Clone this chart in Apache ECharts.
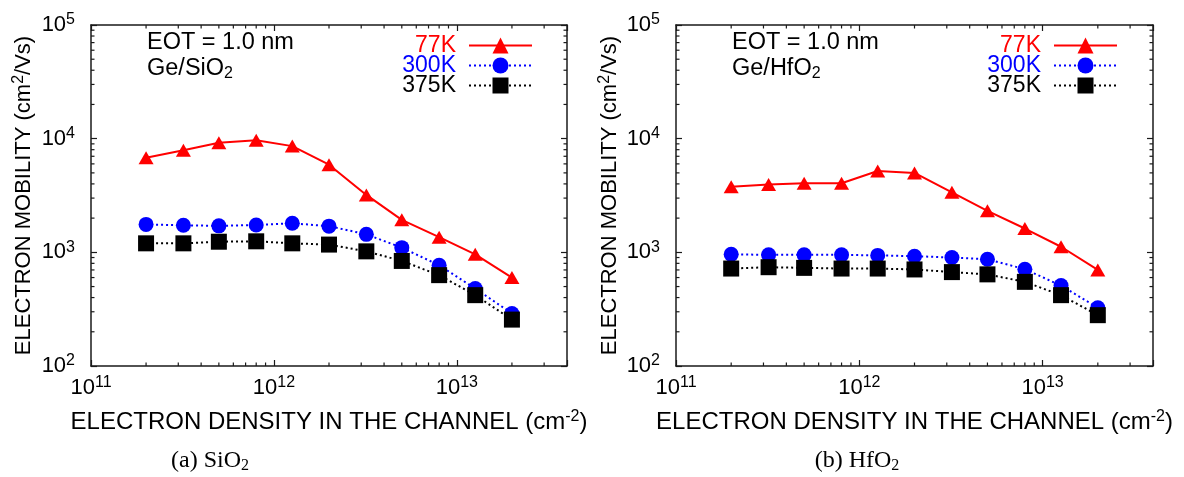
<!DOCTYPE html>
<html>
<head>
<meta charset="utf-8">
<script src="https://cdn.jsdelivr.net/npm/echarts@6/dist/echarts.min.js"></script>
<style>
  html, body { margin: 0; padding: 0; background: #fff; }
  #chart { width: 1184px; height: 477px; }
</style>
</head>
<body>
<div id="chart"></div>
<script>
// Electron density in the channel (cm^-2), shared by both panels
const density = [2e11, 3.2e11, 5e11, 8e11, 1.26e12, 2e12, 3.2e12, 5e12, 8e12, 1.26e13, 2e13];

// Electron mobility (cm^2/Vs), Ge/SiO2
const sio2_77K  = [6800, 7900, 9200, 9700, 8600, 5900, 3200, 1930, 1360, 960, 600];
const sio2_300K = [1760, 1730, 1710, 1740, 1800, 1700, 1440, 1100, 770, 480, 290];
const sio2_375K = [1200, 1200, 1240, 1250, 1200, 1170, 1020, 840, 630, 420, 256];

// Electron mobility (cm^2/Vs), Ge/HfO2
const hfo2_77K  = [3780, 3960, 4050, 4050, 5200, 5000, 3370, 2320, 1620, 1120, 700];
const hfo2_300K = [960, 950, 950, 950, 940, 925, 900, 870, 710, 510, 325];
const hfo2_375K = [720, 740, 730, 720, 720, 707, 670, 640, 550, 420, 280];

const temperatures = ['77K', '300K', '375K'];

// Axis ranges and minor tick positions
const xRange = [1e11, 4e13];
const yRange = [1e2, 1e5];
const xMinorTicks = [2e11, 3e11, 4e11, 5e11, 6e11, 7e11, 8e11, 9e11,
                     2e12, 3e12, 4e12, 5e12, 6e12, 7e12, 8e12, 9e12,
                     2e13, 3e13];
const yMinorTicks = [200, 300, 400, 500, 600, 700, 800, 900,
                     2000, 3000, 4000, 5000, 6000, 7000, 8000, 9000,
                     20000, 30000, 40000, 50000, 60000, 70000, 80000, 90000];

const FONT = '"Liberation Sans", Arial, Helvetica, sans-serif';
const SERIF = '"Liberation Serif", "Times New Roman", serif';
const AXIS_COLOR = '#1a1a1a';

const seriesStyles = [
  { color: '#ff0000', type: 'solid',  symbol: 'triangle', size: [15, 13] },
  { color: '#0000ff', type: [2, 3],   symbol: 'circle',   size: 15 },
  { color: '#000000', type: [2, 3],   symbol: 'rect',     size: 16 }
];

const richText = {
  b:   { fontFamily: FONT, fontSize: 22, lineHeight: 26, color: '#000' },
  sup: { fontFamily: FONT, fontSize: 16, lineHeight: 15, verticalAlign: 'top', color: '#000' }
};
const nameRichX = {
  b:   { fontFamily: FONT, fontSize: 24, lineHeight: 26, color: '#000' },
  sup: { fontFamily: FONT, fontSize: 16, lineHeight: 14, verticalAlign: 'top', color: '#000' }
};

function powerLabel(v) {
  const e = Math.log10(v);
  const r = Math.round(e);
  if (Math.abs(e - r) > 1e-6) return '';
  return '{b|10}{sup|' + r + '}';
}

const panels = [
  {
    grid: { left: 91, right: 617, top: 25, bottom: 111 },
    values: [sio2_77K, sio2_300K, sio2_375K],
    oxide: 'SiO', legendRight: 646, noteX: 147, yNameGap: 54,
    caption: '(a) SiO', captionX: 210
  },
  {
    grid: { left: 676, right: 31, top: 25, bottom: 111 },
    values: [hfo2_77K, hfo2_300K, hfo2_375K],
    oxide: 'HfO', legendRight: 61, noteX: 732, yNameGap: 53,
    caption: '(b) HfO', captionX: 857
  }
];

const grid = [], xAxis = [], yAxis = [], series = [], legend = [], graphic = [];

panels.forEach((p, pi) => {
  grid.push(Object.assign({ containLabel: false }, p.grid));

  const axisLine = { show: true, lineStyle: { color: AXIS_COLOR, width: 1.5 } };
  const axisTick = { show: true, inside: true, length: 6, lineStyle: { color: AXIS_COLOR, width: 1.2 } };

  // bottom + mirrored top x axes
  xAxis.push({
    type: 'log', logBase: 10, gridIndex: pi, position: 'bottom',
    min: xRange[0], max: xRange[1],
    axisLine, axisTick, splitLine: { show: false },
    axisLabel: { formatter: powerLabel, rich: richText, margin: 9 },
    name: '{b|ELECTRON DENSITY IN THE CHANNEL (cm}{sup|-2}{b|)}',
    nameLocation: 'middle', nameGap: 43,
    nameTextStyle: { rich: nameRichX }
  });
  xAxis.push({
    type: 'log', logBase: 10, gridIndex: pi, position: 'top',
    min: xRange[0], max: xRange[1],
    axisLine, axisTick, splitLine: { show: false }, axisLabel: { show: false }
  });

  // left + mirrored right y axes
  yAxis.push({
    type: 'log', logBase: 10, gridIndex: pi, position: 'left',
    min: yRange[0], max: yRange[1],
    axisLine, axisTick, splitLine: { show: false },
    axisLabel: { formatter: powerLabel, rich: richText, margin: 16 },
    name: '{b|ELECTRON MOBILITY (cm}{sup|2}{b|/Vs)}',
    nameLocation: 'middle', nameGap: p.yNameGap, nameRotate: 90,
    nameTextStyle: { rich: richText }
  });
  yAxis.push({
    type: 'log', logBase: 10, gridIndex: pi, position: 'right',
    min: yRange[0], max: yRange[1],
    axisLine, axisTick, splitLine: { show: false }, axisLabel: { show: false }
  });

  const xi = pi * 2, yi = pi * 2;

  // minor ticks along bottom/top edges
  series.push({
    type: 'custom', name: 'xminor' + pi, xAxisIndex: xi, yAxisIndex: yi,
    silent: true, clip: false, z: 1,
    data: xMinorTicks.map(v => [v, yRange[0]]),
    renderItem: (params, api) => {
      const pt = api.coord([api.value(0), api.value(1)]);
      const cs = params.coordSys;
      const st = { stroke: AXIS_COLOR, lineWidth: 1.2 };
      return { type: 'group', children: [
        { type: 'line', shape: { x1: pt[0], y1: cs.y + cs.height, x2: pt[0], y2: cs.y + cs.height - 3.5 }, style: st },
        { type: 'line', shape: { x1: pt[0], y1: cs.y, x2: pt[0], y2: cs.y + 3.5 }, style: st }
      ] };
    }
  });
  // minor ticks along left/right edges
  series.push({
    type: 'custom', name: 'yminor' + pi, xAxisIndex: xi, yAxisIndex: yi,
    silent: true, clip: false, z: 1,
    data: yMinorTicks.map(v => [xRange[0], v]),
    renderItem: (params, api) => {
      const pt = api.coord([api.value(0), api.value(1)]);
      const cs = params.coordSys;
      const st = { stroke: AXIS_COLOR, lineWidth: 1.2 };
      return { type: 'group', children: [
        { type: 'line', shape: { x1: cs.x, y1: pt[1], x2: cs.x + 3.5, y2: pt[1] }, style: st },
        { type: 'line', shape: { x1: cs.x + cs.width, y1: pt[1], x2: cs.x + cs.width - 3.5, y2: pt[1] }, style: st }
      ] };
    }
  });

  // mobility curves
  temperatures.forEach((t, ti) => {
    const s = seriesStyles[ti];
    series.push({
      type: 'line', name: t, xAxisIndex: xi, yAxisIndex: yi,
      data: density.map((d, k) => [d, p.values[ti][k]]),
      symbol: s.symbol, symbolSize: s.size,
      showAllSymbol: true, animation: false, z: 3 + ti,
      lineStyle: { color: s.color, width: 2, type: s.type },
      itemStyle: { color: s.color, borderWidth: 0 }
    });
  });

  legend.push({
    orient: 'vertical', right: p.legendRight, top: 29, align: 'right',
    itemWidth: 63, itemHeight: 20, itemGap: -3, selectedMode: false,
    data: temperatures.map((t, ti) => ({ name: t, textStyle: { color: seriesStyles[ti].color } })),
    textStyle: { fontFamily: FONT, fontSize: 23, lineHeight: 20, padding: [0, 8, 0, 0] }
  });

  graphic.push({
    type: 'text', silent: true,
    style: { text: 'EOT = 1.0 nm', x: p.noteX, y: 43, font: '23.5px ' + FONT, fill: '#000', verticalAlign: 'middle' }
  });
  graphic.push({
    type: 'text', silent: true,
    style: {
      text: '{b|Ge/' + p.oxide + '}{sub|2}', x: p.noteX, y: 69, verticalAlign: 'middle',
      rich: {
        b: { fontFamily: FONT, fontSize: 23.5, lineHeight: 26, color: '#000' },
        sub: { fontFamily: FONT, fontSize: 16, lineHeight: 6, verticalAlign: 'bottom', color: '#000' }
      }
    }
  });
  graphic.push({
    type: 'text', silent: true,
    style: {
      text: '{c|' + p.caption + '}{s|2}', x: p.captionX, y: 461, align: 'center', verticalAlign: 'middle',
      rich: {
        c: { fontFamily: SERIF, fontSize: 24, lineHeight: 26, color: '#111' },
        s: { fontFamily: SERIF, fontSize: 16, lineHeight: 10, verticalAlign: 'bottom', color: '#111' }
      }
    }
  });
});

const chart = echarts.init(document.getElementById('chart'), null, { renderer: 'canvas' });
chart.setOption({
  backgroundColor: '#fff',
  animation: false,
  grid, xAxis, yAxis, series, legend, graphic
});
</script>
</body>
</html>
